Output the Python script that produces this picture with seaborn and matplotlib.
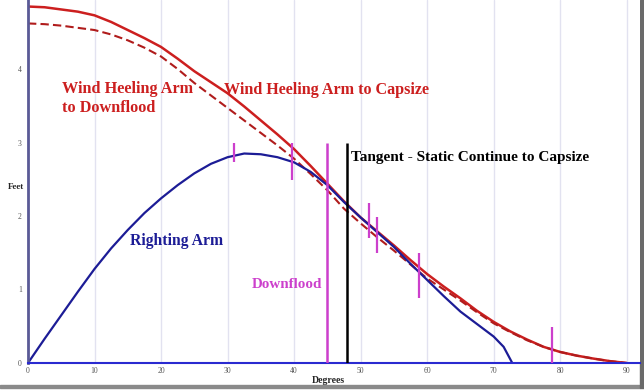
import matplotlib
matplotlib.use("Agg")  # Headless mode for saving files

import matplotlib.pyplot as plt
import seaborn as sns

# === Data ===
# Wind heeling arm to capsize (solid red)
capsize_deg = [0, 2.5, 5, 7.5, 10, 12.5, 15, 17.5, 20, 22.5, 25, 27.5, 30, 32.5, 35, 37.5,
               40, 42.5, 45, 47.5, 50, 52.5, 55, 57.5, 60, 62.5, 65, 67.5, 70, 72.5, 75,
               77.5, 80, 82.5, 85, 87.5, 90]
capsize_ft = [4.85, 4.84, 4.81, 4.78, 4.73, 4.64, 4.53, 4.42, 4.30, 4.14, 3.97, 3.82, 3.67,
              3.49, 3.30, 3.11, 2.91, 2.68, 2.44, 2.20, 1.98, 1.79, 1.60, 1.40, 1.21, 1.04,
              0.88, 0.71, 0.56, 0.43, 0.32, 0.22, 0.15, 0.10, 0.06, 0.025, 0.0]

# Wind heeling arm to downflood (dashed red)
downflood_deg = [0, 2.5, 5, 7.5, 10, 12.5, 15, 17.5, 20, 22.5, 25, 27.5, 30, 32.5, 35, 37.5,
                 40, 42.5, 45, 47.5, 50, 52.5, 55, 57.5, 60, 62.5, 65, 67.5, 70, 72.5, 75,
                 77.5, 80, 82.5, 85, 87.5, 90]
downflood_ft = [4.62, 4.61, 4.59, 4.56, 4.53, 4.47, 4.39, 4.29, 4.17, 4.00, 3.81, 3.64, 3.47,
                3.30, 3.13, 2.96, 2.78, 2.57, 2.35, 2.10, 1.90, 1.71, 1.53, 1.34, 1.15, 1.00,
                0.85, 0.69, 0.54, 0.42, 0.31, 0.22, 0.15, 0.10, 0.06, 0.025, 0.0]

# Righting arm (blue)
righting_deg = [0, 2.5, 5, 7.5, 10, 12.5, 15, 17.5, 20, 22.5, 25, 27.5, 30, 32.5, 35, 37.5,
                40, 42.5, 45, 47.5, 50, 52.5, 55, 57.5, 60, 62.5, 65, 67.5, 70, 71.5, 72.8]
righting_ft = [0.0, 0.33, 0.65, 0.97, 1.28, 1.56, 1.81, 2.04, 2.24, 2.42, 2.58, 2.71, 2.80,
               2.85, 2.84, 2.80, 2.73, 2.60, 2.42, 2.19, 1.98, 1.78, 1.58, 1.35, 1.13, 0.91,
               0.70, 0.53, 0.36, 0.22, 0.0]

# Magenta marker ticks: angle, low end, high end
marker_deg = [31.0, 39.7, 51.3, 52.5, 58.8, 78.8]
marker_lo = [2.74, 2.49, 1.70, 1.49, 0.89, 0.0]
marker_hi = [2.99, 3.00, 2.18, 1.98, 1.49, 0.49]

# Downflood angle and tangent angle
downflood_angle = 45.0
tangent_angle = 48.0
vline_top = 3.0

x_ticks = [0, 10, 20, 30, 40, 50, 60, 70, 80, 90]
y_ticks = [0, 1, 2, 3, 4]

RED = "#cc1f1f"
DARK_RED = "#b01c1c"
NAVY = "#1c1c96"
MAGENTA = "#cc3fcc"

sns.set_theme(style="white")
plt.rcParams["font.family"] = ["Liberation Serif", "DejaVu Serif"]

fig = plt.figure(figsize=(6.44, 3.92), dpi=100)
ax = fig.add_axes([28 / 644, 29 / 392, 612 / 644, 363 / 392])

# Light vertical grid
for gx in x_ticks[1:]:
    ax.axvline(gx, color="#e2e2f0", linewidth=1, zorder=0)

# Curves
sns.lineplot(x=capsize_deg, y=capsize_ft, ax=ax, color=RED, linewidth=1.8, sort=False)
sns.lineplot(x=downflood_deg, y=downflood_ft, ax=ax, color=DARK_RED, linewidth=1.5,
             linestyle=(0, (4, 2)), sort=False)
sns.lineplot(x=righting_deg, y=righting_ft, ax=ax, color=NAVY, linewidth=1.6, sort=False)

# Marker ticks and vertical lines
ax.vlines(marker_deg, marker_lo, marker_hi, color=MAGENTA, linewidth=1.6, zorder=4)
ax.vlines(downflood_angle, 0, vline_top, color=MAGENTA, linewidth=1.8, zorder=4)
ax.vlines(tangent_angle, 0, vline_top, color="black", linewidth=1.8, zorder=4)

# Annotations
ax.text(5.1, 3.67, "Wind Heeling Arm", color=RED, fontsize=11.7,
        fontweight="bold", va="baseline", ha="left")
ax.text(5.1, 3.415, "to Downflood", color=RED, fontsize=11.7,
        fontweight="bold", va="baseline", ha="left")
ax.text(29.5, 3.66, "Wind Heeling Arm to Capsize", color=RED, fontsize=11.6,
        fontweight="bold", va="baseline", ha="left")
ax.text(48.5, 2.75, "Tangent - Static Continue to Capsize", color="black", fontsize=11,
        fontweight="bold", va="baseline", ha="left")
ax.text(15.3, 1.605, "Righting Arm", color=NAVY, fontsize=11.3,
        fontweight="bold", va="baseline", ha="left")
ax.text(33.6, 1.02, "Downflood", color=MAGENTA, fontsize=10.8,
        fontweight="bold", va="baseline", ha="left")

# Axes styling
ax.set_xlim(0, 92)
ax.set_ylim(0, 363 / 73.5)
ax.set_xticks(x_ticks)
ax.set_yticks(y_ticks)
ax.tick_params(axis="x", length=0, labelsize=5.5, labelcolor="#555555", pad=3)
ax.tick_params(axis="y", length=5, width=1, direction="inout", color="#5a5a96",
               labelsize=5.5, labelcolor="#555555", pad=2)
ax.spines["top"].set_visible(False)
ax.spines["right"].set_visible(False)
ax.spines["left"].set_color("#5a5a96")
ax.spines["left"].set_linewidth(2)
ax.spines["bottom"].set_color("#2a2ad0")
ax.spines["bottom"].set_linewidth(1.5)

ax.set_xlabel("Degrees", fontsize=7, fontweight="bold")
ax.xaxis.set_label_coords(0.49, -0.035)
ax.set_ylabel("Feet", fontsize=6.5, fontweight="bold", rotation=0)
ax.yaxis.set_label_coords(-0.02, 0.475)

# Drop shadow border of the screenshot
fig.add_artist(plt.Rectangle((0, 4 / 392), 640 / 644, 3 / 392, transform=fig.transFigure,
                             color="#8a8a8a", zorder=0))
fig.add_artist(plt.Rectangle((640 / 644, 4 / 392), 4 / 644, 388 / 392, transform=fig.transFigure,
                             color="#6a6a6a", zorder=0))

plt.savefig("out.png", dpi=100)
print("Saved: out.png")
